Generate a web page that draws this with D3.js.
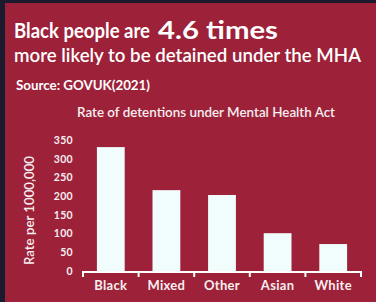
<!DOCTYPE html>
<html>
<head>
<meta charset="utf-8">
<script src="https://cdn.jsdelivr.net/npm/d3@7"></script>
<style>
  body { margin: 0; background: #1b1a2e; }
  svg { display: block; font-family: Lato, "Open Sans", sans-serif; }
</style>
</head>
<body>
<script>
// data
var groups = ['Black', 'Mixed', 'Other', 'Asian', 'White'];
var rates  = [331, 216, 203, 101, 72];
var yTicks = [0, 50, 100, 150, 200, 250, 300, 350];

const W = 376, H = 302;
const RED = '#9c2139';
const BAR = '#f1fdfd';
const TXT = '#f7eef0';

var svg = d3.select('body').append('svg')
  .attr('width', W)
  .attr('height', H);

// stretch a text to a given width (the reference face is wider than Lato)
function fit(sel, width) {
  sel.attr('textLength', width).attr('lengthAdjust', 'spacingAndGlyphs');
  return sel;
}

// red panel
svg.append('rect')
  .attr('x', 5).attr('y', 3)
  .attr('width', W - 5).attr('height', H - 3)
  .attr('fill', RED);

// headline
fit(svg.append('text')
  .attr('x', 14).attr('y', 38)
  .attr('fill', '#fff')
  .attr('font-size', 20)
  .attr('font-weight', 700)
  .text('Black people are'), 136);
fit(svg.append('text')
  .attr('x', 158).attr('y', 38.5)
  .attr('fill', '#fff')
  .attr('font-size', 25)
  .attr('font-weight', 700)
  .text('4.6 times'), 120);

fit(svg.append('text')
  .attr('x', 14).attr('y', 62)
  .attr('fill', '#fff')
  .attr('font-size', 18.5)
  .attr('font-weight', 600)
  .text('more likely to be detained under the MHA'), 347);

fit(svg.append('text')
  .attr('x', 16).attr('y', 89.5)
  .attr('fill', '#fff')
  .attr('font-size', 13.5)
  .attr('font-weight', 700)
  .text('Source: GOVUK(2021)'), 134);

// chart title
fit(svg.append('text')
  .attr('x', 77).attr('y', 117)
  .attr('fill', TXT)
  .attr('font-size', 13)
  .attr('font-weight', 600)
  .text('Rate of detentions under Mental Health Act'), 258);

var x = d3.scaleBand()
  .domain(groups)
  .range([83, 361])
  .paddingInner(0.5)
  .paddingOuter(0.25);

var y = d3.scaleLinear()
  .domain([0, 350])
  .range([271, 140]);

// bars
svg.append('g').selectAll('rect')
  .data(groups)
  .join('rect')
  .attr('x', d => x(d))
  .attr('width', x.bandwidth())
  .attr('y', (d, i) => y(rates[i]))
  .attr('height', (d, i) => y(0) - y(rates[i]))
  .attr('fill', BAR);

// y axis (labels only)
var yAxis = svg.append('g')
  .attr('transform', 'translate(76,0)')
  .call(d3.axisLeft(y).tickValues(yTicks).tickSize(0).tickPadding(3));
yAxis.select('.domain').remove();
yAxis.selectAll('text')
  .attr('fill', TXT)
  .attr('font-family', 'Lato, sans-serif')
  .attr('font-size', 10.5)
  .attr('font-weight', 700)
  .attr('letter-spacing', 0.3);

fit(svg.append('text')
  .attr('transform', 'translate(34,265) rotate(-90)')
  .attr('fill', TXT)
  .attr('font-size', 13)
  .attr('font-weight', 600)
  .text('Rate per 1000,000'), 109);

// x axis: line with ticks on band boundaries
var axisY = 272;
var xAxis = svg.append('g')
  .attr('transform', 'translate(0,' + axisY + ')');
var r = x.range();
xAxis.append('line')
  .attr('x1', r[0]).attr('x2', r[1])
  .attr('stroke', '#fff').attr('stroke-width', 2);
var bounds = d3.range(groups.length + 1).map(i => r[0] + i * x.step());
xAxis.selectAll('.tick')
  .data(bounds)
  .join('line')
  .attr('class', 'tick')
  .attr('x1', d => d).attr('x2', d => d)
  .attr('y1', -1).attr('y2', 5)
  .attr('stroke', '#fff').attr('stroke-width', 2);
xAxis.selectAll('.lbl')
  .data(groups)
  .join('text')
  .attr('class', 'lbl')
  .attr('x', d => x(d) + x.bandwidth() / 2)
  .attr('y', 18)
  .attr('text-anchor', 'middle')
  .attr('fill', TXT)
  .attr('font-size', 13)
  .attr('font-weight', 700)
  .attr('letter-spacing', 0.3)
  .text(d => d);
</script>
</body>
</html>
